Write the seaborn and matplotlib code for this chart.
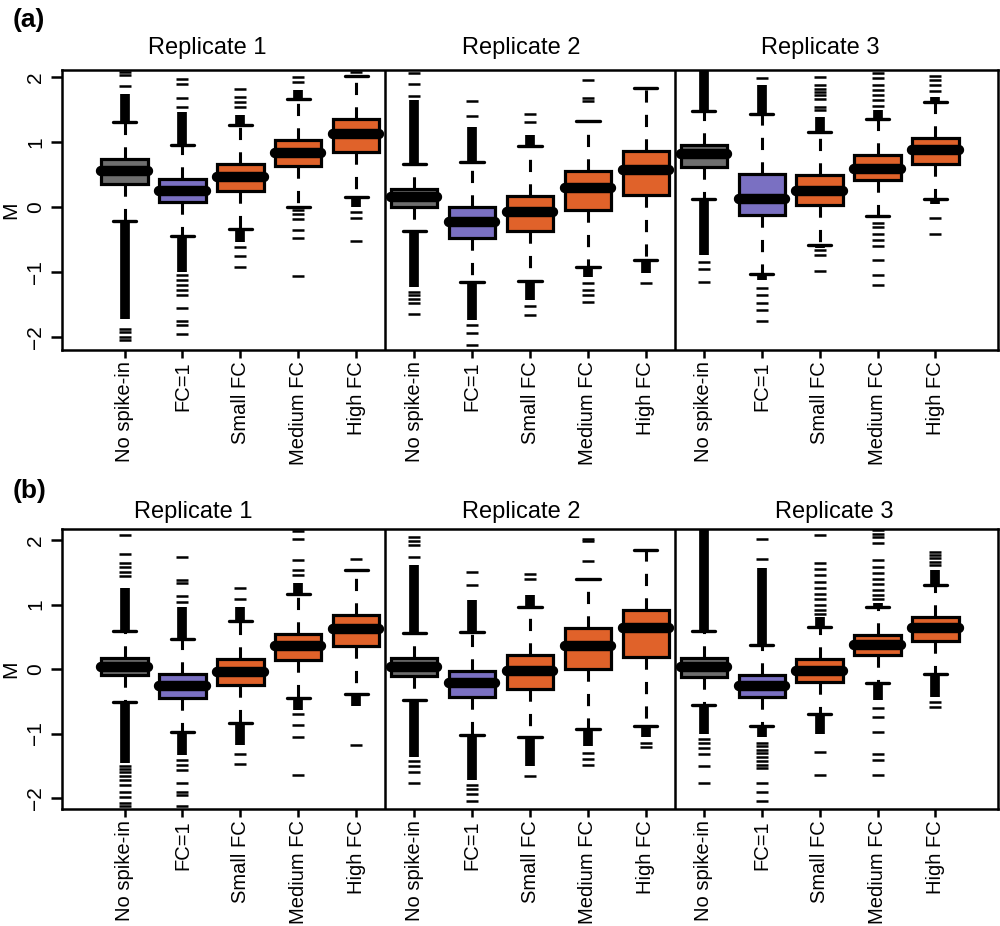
import matplotlib
matplotlib.use("Agg")
import matplotlib.pyplot as plt
import matplotlib.transforms as mtransforms
import seaborn as sns
import pandas as pd

# ---------------- data ----------------
categories = ["No spike-in", "FC=1", "Small FC", "Medium FC", "High FC"]
replicates = ["Replicate 1", "Replicate 2", "Replicate 3"]
cat_colors = ["#6e6e6e", "#7a70c2", "#e0622a", "#e0622a", "#e0622a"]

# panel (a): 15 boxes (Rep1 x5, Rep2 x5, Rep3 x5)
a_wlo = [-0.215, -0.44, -0.34, 0.00, 0.16, -0.37, -1.16, -1.14, -0.92, -0.82, 0.12, -1.03, -0.58, -0.14, 0.12]
a_q1 = [0.35, 0.08, 0.25, 0.64, 0.85, 0.005, -0.47, -0.37, -0.04, 0.18, 0.62, -0.12, 0.03, 0.41, 0.67]
a_med = [0.56, 0.25, 0.46, 0.84, 1.12, 0.15, -0.23, -0.08, 0.30, 0.57, 0.82, 0.13, 0.25, 0.59, 0.88]
a_q3 = [0.74, 0.44, 0.67, 1.04, 1.35, 0.28, -0.005, 0.17, 0.56, 0.86, 0.96, 0.51, 0.49, 0.80, 1.07]
a_whi = [1.31, 0.96, 1.27, 1.66, 2.02, 0.67, 0.69, 0.94, 1.32, 1.84, 1.48, 1.43, 1.15, 1.36, 1.62]
a_dense_up = [(1.31, 1.74), (0.96, 1.47), (1.27, 1.42), (1.66, 1.80), None,
              (0.67, 1.65), (0.69, 1.24), (0.94, 1.11), None, None,
              (1.48, 2.12), (1.43, 1.88), (1.15, 1.39), (1.36, 1.49), (1.62, 1.70)]
a_dense_lo = [(-1.72, -0.215), (-1.0, -0.44), (-0.53, -0.34), None, (0.0, 0.16),
              (-1.23, -0.37), (-1.74, -1.16), (-1.43, -1.14), (-1.07, -0.92), (-1.02, -0.82),
              (-0.74, 0.12), (-1.12, -1.03), (-0.63, -0.58), None, (0.05, 0.12)]
a_sparse = [
    [1.86, 2.03, 2.08, -1.87, -1.93, -2.0, -2.05],
    [1.54, 1.68, 1.90, 1.97, -1.05, -1.12, -1.2, -1.28, -1.35, -1.56, -1.76, -1.82, -1.96],
    [1.54, 1.62, 1.70, 1.81, -0.61, -0.76, -0.92],
    [1.93, 2.0, -0.05, -0.11, -0.18, -0.35, -0.47, -1.06],
    [2.08, -0.07, -0.17, -0.52],
    [1.71, 1.89, 2.06, -1.30, -1.36, -1.42, -1.48, -1.65],
    [1.40, 1.64, -1.82, -1.94, -2.12],
    [1.31, 1.44, -1.53, -1.66],
    [1.63, 1.68, 1.95, -1.17, -1.28, -1.35, -1.46],
    [-1.17],
    [-0.84, -0.96, -1.15],
    [1.98, -1.24, -1.35, -1.48, -1.58, -1.75],
    [1.50, 1.54, 1.67, 1.72, 1.77, 1.82, 1.88, 2.0, -0.66, -0.74, -0.99],
    [1.56, 1.65, 1.72, 1.80, 1.88, 1.98, 2.06, -0.25, -0.30, -0.41, -0.50, -0.60, -0.82, -1.05, -1.20],
    [1.78, 1.88, 1.95, 2.02, -0.17, -0.41],
]

# panel (b)
b_wlo = [-0.51, -0.98, -0.83, -0.45, -0.38, -0.48, -1.03, -1.06, -0.93, -0.89, -0.55, -0.89, -0.70, -0.22, -0.08]
b_q1 = [-0.10, -0.45, -0.25, 0.14, 0.36, -0.11, -0.44, -0.31, 0.0, 0.19, -0.12, -0.43, -0.20, 0.22, 0.43]
b_med = [0.035, -0.26, -0.04, 0.35, 0.62, 0.036, -0.21, -0.03, 0.36, 0.63, 0.036, -0.26, -0.03, 0.37, 0.63]
b_q3 = [0.175, -0.08, 0.155, 0.55, 0.84, 0.165, -0.03, 0.22, 0.63, 0.92, 0.175, -0.10, 0.15, 0.52, 0.80]
b_whi = [0.59, 0.46, 0.74, 1.16, 1.54, 0.56, 0.58, 0.965, 1.40, 1.84, 0.59, 0.38, 0.645, 0.96, 1.31]
b_dense_up = [(0.59, 1.25), (0.46, 0.96), (0.74, 0.96), (1.16, 1.33), None,
              (0.56, 1.61), (0.58, 1.07), (0.965, 1.15), None, None,
              (0.59, 2.17), (0.38, 1.56), (0.645, 0.81), (0.96, 1.02), (1.31, 1.53)]
b_dense_lo = [(-1.45, -0.51), (-1.33, -0.98), (-1.18, -0.83), (-0.63, -0.45), (-0.58, -0.38),
              (-1.36, -0.48), (-1.72, -1.03), (-1.51, -1.06), (-1.20, -0.93), (-1.05, -0.89),
              (-1.0, -0.55), (-1.05, -0.89), (-1.0, -0.70), (-0.48, -0.22), (-0.43, -0.08)]
b_sparse = [
    [1.44, 1.51, 1.58, 1.64, 1.79, 2.08, -1.5, -1.55, -1.6, -1.66, -1.72, -1.8, -1.9, -1.98, -2.08, -2.13],
    [1.04, 1.13, 1.33, 1.38, 1.73, -1.41, -1.49, -1.56, -1.77, -1.90, -1.95, -2.12],
    [1.09, 1.25, -1.32, -1.47],
    [1.46, 1.53, 1.69, 2.02, 2.14, -0.70, -0.87, -1.05, -1.64],
    [1.71, -1.18],
    [1.74, 1.92, 1.99, 2.05, -1.42, -1.51, -1.60, -1.76],
    [1.30, 1.50, -1.79, -1.86, -1.93, -2.05],
    [1.40, 1.48, -1.66],
    [1.68, 1.98, 2.02, -1.30, -1.40, -1.49],
    [-1.14, -1.21],
    [-1.08, -1.15, -1.23, -1.32, -1.51, -1.77],
    [1.70, 2.02, -1.15, -1.2, -1.25, -1.3, -1.36, -1.42, -1.48, -1.54, -1.77, -1.91, -2.04],
    [0.86, 0.92, 1.0, 1.08, 1.16, 1.25, 1.35, 1.45, 1.55, 1.64, 2.07, -1.28, -1.64],
    [1.08, 1.15, 1.23, 1.32, 1.40, 1.49, 1.58, 1.69, 1.95, 2.05, 2.1, 2.15, -0.60, -0.74, -0.98, -1.31, -1.41, -1.64],
    [1.61, 1.66, 1.72, 1.77, 1.82, -0.51, -0.59],
]

panels = [
    dict(label="(a)", wlo=a_wlo, q1=a_q1, med=a_med, q3=a_q3, whi=a_whi,
         dense_up=a_dense_up, dense_lo=a_dense_lo, sparse=a_sparse,
         ylim=(-2.2, 2.11), rect=[0.062, 0.622, 0.936, 0.3024],
         title_x=[1.43, 6.85, 12.01], title_y=1.08, label_y=0.978),
    dict(label="(b)", wlo=b_wlo, q1=b_q1, med=b_med, q3=b_q3, whi=b_whi,
         dense_up=b_dense_up, dense_lo=b_dense_lo, sparse=b_sparse,
         ylim=(-2.17, 2.17), rect=[0.062, 0.1263, 0.936, 0.3024],
         title_x=[1.19, 6.85, 12.26], title_y=1.06, label_y=0.470),
]

# ---------------- style ----------------
sns.set_theme(style="white")
plt.rcParams["font.family"] = ["Liberation Sans", "DejaVu Sans"]
plt.rcParams["axes.linewidth"] = 1.8
plt.rcParams["axes.edgecolor"] = "black"
for key in ("text.color", "axes.labelcolor", "xtick.color", "ytick.color"):
    plt.rcParams[key] = "black"

fig = plt.figure(figsize=(10, 9.26), dpi=100)

keys = [f"{r}|{c}" for r in replicates for c in categories]
palette = {k: cat_colors[i % 5] for i, k in enumerate(keys)}

for p in panels:
    ax = fig.add_axes(p["rect"])
    rows = []
    for i, k in enumerate(keys):
        for v in (p["wlo"][i], p["q1"][i], p["med"][i], p["q3"][i], p["whi"][i]):
            rows.append({"key": k, "M": v})
    df = pd.DataFrame(rows)
    sns.boxplot(data=df, x="key", y="M", hue="key", order=keys, hue_order=keys,
                palette=palette, legend=False, whis=(0, 100), width=0.8,
                showfliers=False, linecolor="black", linewidth=2.3, saturation=1,
                medianprops=dict(color="black", linewidth=7.5, solid_capstyle="round"),
                whiskerprops=dict(color="black", linewidth=2.2, linestyle=(0, (4, 4))),
                capprops=dict(color="black", linewidth=2.4),
                ax=ax)

    # dense runs of outliers (stacked dashes merge into solid bars)
    for i, rng in enumerate(p["dense_up"]):
        if rng is not None:
            ax.vlines(i, rng[0], rng[1], colors="black", linewidth=7, zorder=3)
    for i, rng in enumerate(p["dense_lo"]):
        if rng is not None:
            ax.vlines(i, rng[0], rng[1], colors="black", linewidth=7, zorder=3)

    # individual outliers
    frows = []
    for i, k in enumerate(keys):
        for v in p["sparse"][i]:
            frows.append({"key": k, "M": v})
    fdf = pd.DataFrame(frows)
    sns.stripplot(data=fdf, x="key", y="M", order=keys, jitter=False, marker="_",
                  size=8.5, linewidth=1.8, color="black", ax=ax, zorder=3)

    ax.axvline(4.5, color="black", linewidth=1.8)
    ax.axvline(9.5, color="black", linewidth=1.8)

    ax.set_xlim(-1.08, 15.08)
    ax.set_ylim(*p["ylim"])
    ax.set_xticks(range(15))
    ax.set_xticklabels(categories * 3, rotation=90, fontsize=14.5)
    ax.set_yticks([-2, -1, 0, 1, 2])
    ax.set_yticklabels(["\u22122", "\u22121", "0", "1", "2"], rotation=90,
                       va="center", fontsize=15)
    ax.tick_params(axis="x", direction="out", length=6, width=1.8, pad=2, bottom=True)
    ax.tick_params(axis="y", direction="out", length=8, width=1.8, pad=4, left=True)
    ax.set_xlabel("")
    ax.set_ylabel("M", fontsize=15)
    ax.yaxis.set_label_coords(-0.045, 0.5)
    for s in ax.spines.values():
        s.set_linewidth(1.8)
        s.set_color("black")

    trans = mtransforms.blended_transform_factory(ax.transData, ax.transAxes)
    for r, tx in zip(replicates, p["title_x"]):
        ax.text(tx, p["title_y"], r, transform=trans, ha="center", va="center",
                fontsize=17)
    fig.text(0.013, p["label_y"], p["label"], fontsize=19, fontweight="bold",
             ha="left", va="center")

fig.savefig("out.png", dpi=100)
